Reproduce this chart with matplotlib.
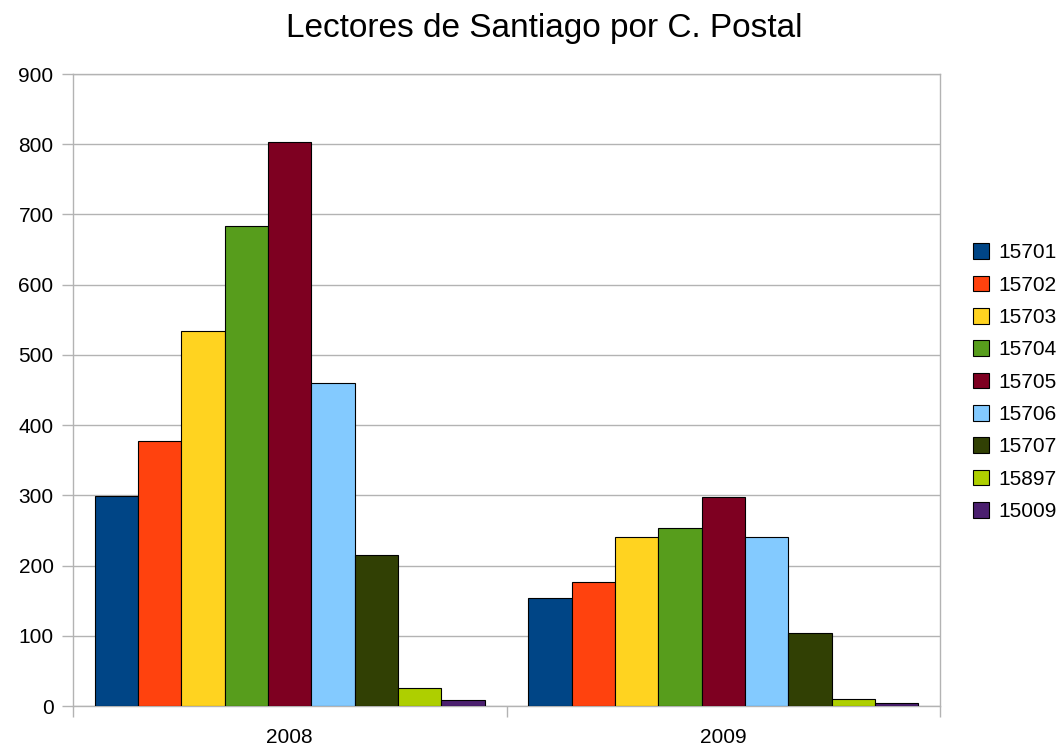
import matplotlib
matplotlib.use('Agg')
import matplotlib.pyplot as plt
import numpy as np

plt.rcParams['font.family'] = ['Liberation Sans', 'DejaVu Sans']

# datos
anios = ['2008', '2009']
codigos = ['15701', '15702', '15703', '15704', '15705', '15706', '15707', '15897', '15009']
valores_2008 = [299, 378, 534, 683, 803, 460, 215, 26, 9]
valores_2009 = [154, 177, 241, 253, 298, 240, 104, 10, 4]
paleta = ['#004586', '#ff420e', '#ffd320', '#579d1c', '#7e0021',
          '#83caff', '#314004', '#aecf00', '#4b1f6f']

gris = '#b3b3b3'
fig = plt.figure(figsize=(10.62, 7.48), dpi=100)
ax = fig.add_axes([73/1062, 42/748, 867/1062, 632/748])

x = np.arange(len(anios))
width = 0.1
for i, cod in enumerate(codigos):
    alturas = [valores_2008[i], valores_2009[i]]
    ax.bar(x + (i - 4) * width, alturas, width, color=paleta[i],
           edgecolor='black', linewidth=0.8, label=cod, zorder=3)

ax.set_xlim(-0.5, 1.5)
ax.set_ylim(0, 900)
ax.set_yticks(range(0, 901, 100))
ax.yaxis.grid(True, color=gris, linewidth=1, zorder=0)

# ticks en los limites de categoria, etiquetas en el centro
ax.set_xticks([-0.5, 0.5, 1.5])
ax.set_xticklabels([])
ax.set_xticks(x, minor=True)
ax.set_xticklabels(anios, minor=True)
ax.tick_params(axis='x', which='minor', length=0, pad=16, labelsize=15)
ax.tick_params(axis='x', which='major', length=8, width=1, color=gris)
ax.tick_params(axis='y', length=8, width=1, color=gris, pad=6, labelsize=15)

for s in ax.spines.values():
    s.set_color(gris)
    s.set_linewidth(1)

# titulo centrado como en el original
fig.text(544/1062, 1 - 28/748, 'Lectores de Santiago por C. Postal',
         fontsize=24, ha='center', va='center')

fig.legend(loc='center left', bbox_to_anchor=(963/1062, 0.489), frameon=False,
           fontsize=15, handlelength=0.77, handleheight=0.77,
           handletextpad=0.45, labelspacing=0.64, borderpad=0)

plt.savefig('out.png', dpi=100)
